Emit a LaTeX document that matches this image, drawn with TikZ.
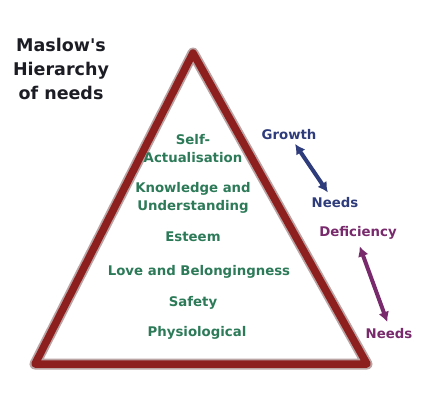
\documentclass[tikz,border=0pt]{standalone}
\usepackage{fontspec}
\setmainfont{DejaVu Sans}
\usetikzlibrary{arrows.meta}
\definecolor{TriRed}{HTML}{8E1F1F}
\definecolor{TriShade}{HTML}{BBA4A4}
\definecolor{LvGreen}{HTML}{2C7A58}
\definecolor{GrBlue}{HTML}{2F3C7C}
\definecolor{DfPurple}{HTML}{782A6C}
\definecolor{Ink}{HTML}{1C1C24}

\begin{document}
\begin{tikzpicture}[x=1pt,y=-1pt,
  level/.style={text=LvGreen,font=\bfseries\fontsize{13.3}{18}\selectfont,align=center,inner sep=1pt},
  side/.style={font=\bfseries\fontsize{13.3}{16}\selectfont,inner sep=2pt},
  twoway/.style={{Latex[length=10pt,width=11pt]}-{Latex[length=10pt,width=11pt]},line width=4pt}]
\useasboundingbox (0,0) rectangle (430,400);
% pyramid outline
\coordinate (top) at (193,53);
\coordinate (bl) at (35,364);
\coordinate (br) at (367,364);
\draw[TriShade,line width=11pt,line join=round] (top) -- (bl) -- (br) -- cycle;
\draw[TriRed,line width=7.5pt,line join=round] (top) -- (bl) -- (br) -- cycle;
% title
\node[font=\bfseries\fontsize{17.5}{24}\selectfont,text=Ink,align=center] (title) at (61,69) {Maslow\textquotesingle s\\Hierarchy\\of needs};
% levels
\node[level] (self) at (193,149) {Self-\\Actualisation};
\node[level] (know) at (193,198) {Knowledge and\\Understanding};
\node[level] (esteem) at (193,237) {Esteem};
\node[level] (love) at (199,272) {Love and Belongingness};
\node[level] (safety) at (193,303) {Safety};
\node[level] (phys) at (197,333) {Physiological};
% growth / deficiency
\node[side,text=GrBlue] (growth) at (289,135) {Growth};
\node[side,text=GrBlue] (needsG) at (335,203) {Needs};
\node[side,text=DfPurple] (defic) at (358,233) {Deficiency};
\node[side,text=DfPurple] (needsD) at (389,334) {Needs};
\draw[twoway,GrBlue,shorten <=2pt,shorten >=4pt] (growth) -- (needsG);
\draw[twoway,DfPurple,shorten <=5pt,shorten >=5pt] (defic.south) -- (needsD.north);
\end{tikzpicture}
\end{document}
